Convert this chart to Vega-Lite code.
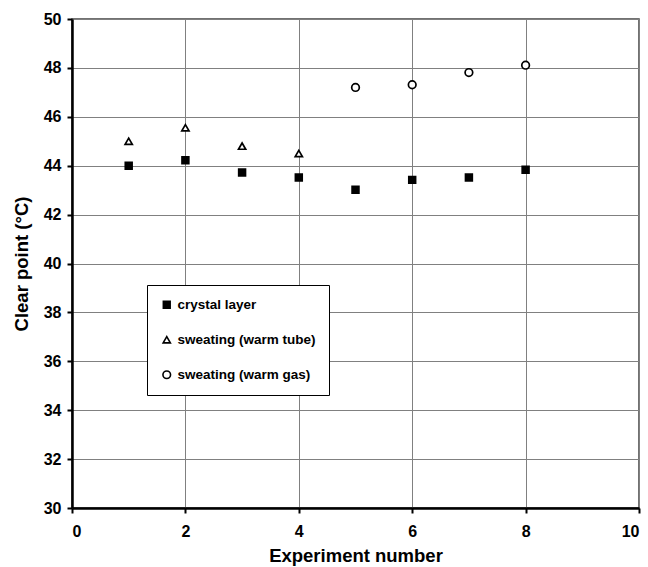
{
  "$schema": "https://vega.github.io/schema/vega-lite/v6.json",
  "width": 567,
  "height": 489,
  "autosize": {"type": "none"},
  "padding": {"left": 72, "top": 19, "right": 9, "bottom": 59},
  "background": "white",
  "config": {
    "font": "Liberation Sans",
    "view": {"stroke": "#444444", "strokeWidth": 1.5},
    "legend": {
      "title": null,
      "orient": "none",
      "legendX": 75,
      "legendY": 266,
      "fillColor": "white",
      "strokeColor": "black",
      "padding": 13,
      "rowPadding": 20,
      "labelFont": "Liberation Sans",
      "labelFontSize": 13.5,
      "labelFontWeight": "bold",
      "labelColor": "black",
      "labelOffset": 4,
      "symbolStrokeWidth": 1.6
    }
  },
  "data": {
    "values": [
      {"experiment": 1, "series": "crystal layer", "clear_point": 44.0},
      {"experiment": 2, "series": "crystal layer", "clear_point": 44.22},
      {"experiment": 3, "series": "crystal layer", "clear_point": 43.72},
      {"experiment": 4, "series": "crystal layer", "clear_point": 43.52},
      {"experiment": 5, "series": "crystal layer", "clear_point": 43.02},
      {"experiment": 6, "series": "crystal layer", "clear_point": 43.42},
      {"experiment": 7, "series": "crystal layer", "clear_point": 43.52},
      {"experiment": 8, "series": "crystal layer", "clear_point": 43.83},
      {"experiment": 1, "series": "sweating (warm tube)", "clear_point": 45.0},
      {"experiment": 2, "series": "sweating (warm tube)", "clear_point": 45.55},
      {"experiment": 3, "series": "sweating (warm tube)", "clear_point": 44.8},
      {"experiment": 4, "series": "sweating (warm tube)", "clear_point": 44.5},
      {"experiment": 5, "series": "sweating (warm gas)", "clear_point": 47.2},
      {"experiment": 6, "series": "sweating (warm gas)", "clear_point": 47.31},
      {"experiment": 7, "series": "sweating (warm gas)", "clear_point": 47.81},
      {"experiment": 8, "series": "sweating (warm gas)", "clear_point": 48.11}
    ]
  },
  "mark": {"type": "point", "strokeWidth": 1.7, "opacity": 1},
  "encoding": {
    "x": {
      "field": "experiment",
      "type": "quantitative",
      "scale": {"domain": [0, 10], "nice": false, "zero": false},
      "axis": {
        "values": [0, 2, 4, 6, 8, 10],
        "title": "Experiment number",
        "grid": true,
        "gridColor": "#808080",
        "gridWidth": 1,
        "domainColor": "black",
        "domainWidth": 2.5,
        "tickColor": "black",
        "tickWidth": 2,
        "tickSize": 5,
        "labelFont": "Liberation Sans",
        "labelFontWeight": "bold",
        "labelFontSize": 16,
        "labelColor": "black",
        "labelPadding": 10,
        "titleFont": "Liberation Sans",
        "titleFontWeight": "bold",
        "titleFontSize": 18.5,
        "titleColor": "black",
        "titlePadding": 7
      }
    },
    "y": {
      "field": "clear_point",
      "type": "quantitative",
      "scale": {"domain": [30, 50], "nice": false, "zero": false},
      "axis": {
        "values": [30, 32, 34, 36, 38, 40, 42, 44, 46, 48, 50],
        "title": "Clear point (°C)",
        "grid": true,
        "gridColor": "#808080",
        "gridWidth": 1,
        "domainColor": "black",
        "domainWidth": 2.5,
        "tickColor": "black",
        "tickWidth": 2,
        "tickSize": 5,
        "labelFont": "Liberation Sans",
        "labelFontWeight": "bold",
        "labelFontSize": 16,
        "labelColor": "black",
        "labelPadding": 6,
        "titleFont": "Liberation Sans",
        "titleFontWeight": "bold",
        "titleFontSize": 18.5,
        "titleColor": "black",
        "titlePadding": 12
      }
    },
    "shape": {
      "field": "series",
      "type": "nominal",
      "scale": {
        "domain": ["crystal layer", "sweating (warm tube)", "sweating (warm gas)"],
        "range": ["square", "triangle-up", "circle"]
      }
    },
    "fill": {
      "field": "series",
      "type": "nominal",
      "scale": {
        "domain": ["crystal layer", "sweating (warm tube)", "sweating (warm gas)"],
        "range": ["black", "white", "white"]
      }
    },
    "stroke": {
      "field": "series",
      "type": "nominal",
      "scale": {
        "domain": ["crystal layer", "sweating (warm tube)", "sweating (warm gas)"],
        "range": ["black", "black", "black"]
      }
    },
    "size": {
      "field": "series",
      "type": "nominal",
      "scale": {
        "domain": ["crystal layer", "sweating (warm tube)", "sweating (warm gas)"],
        "range": [46, 58, 28]
      }
    }
  }
}
